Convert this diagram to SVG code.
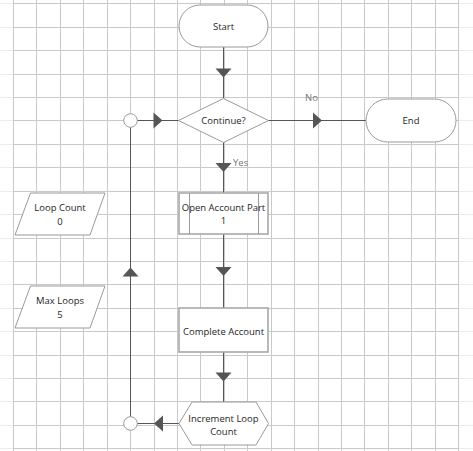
<svg xmlns="http://www.w3.org/2000/svg" width="473" height="451" viewBox="0 0 473 451">
<style>
.grid{stroke:#c9c9c9;stroke-width:1;fill:none}
.gridf{stroke:#ececec;stroke-width:1;fill:none}
.shape{fill:#fff;stroke:#9a9a9a;stroke-width:1}
.box{fill:#fff;stroke:#a8a8a8;stroke-width:1.6}
.conn{fill:none;stroke:#555;stroke-width:1}
.t{font-family:"Open Sans","Noto Sans",sans-serif;font-size:9.5px;fill:#1e1e1e;text-anchor:middle}
.lbl{font-family:"Open Sans","Noto Sans",sans-serif;font-size:9.5px;fill:#777}
</style>
<defs>
<marker id="ah" markerUnits="userSpaceOnUse" markerWidth="12" markerHeight="18" viewBox="-6 -9 12 18" refX="0" refY="0" orient="auto">
<path d="M-4.5,-8 L4.5,0 L-4.5,8 Z" fill="#555"/>
</marker>
</defs>
<rect width="473" height="451" fill="#fff"/>
<g id="grid">
<path class="gridf" d="M0 3.5H13M458 3.5H473M0 27.5H13M458 27.5H473M0 50.5H13M458 50.5H473M0 74.5H13M458 74.5H473M0 97.5H13M458 97.5H473M0 120.5H13M458 120.5H473M0 144.5H13M458 144.5H473M0 167.5H13M458 167.5H473M0 191.5H13M458 191.5H473M0 214.5H13M458 214.5H473M0 238.5H13M458 238.5H473M0 261.5H13M458 261.5H473M0 284.5H13M458 284.5H473M0 308.5H13M458 308.5H473M0 331.5H13M458 331.5H473M0 355.5H13M458 355.5H473M0 378.5H13M458 378.5H473M0 401.5H13M458 401.5H473M0 425.5H13M458 425.5H473M0 448.5H13M458 448.5H473"/>
<path class="grid" d="M13 3.5H458.5M13 27.5H458.5M13 50.5H458.5M13 74.5H458.5M13 97.5H458.5M13 120.5H458.5M13 144.5H458.5M13 167.5H458.5M13 191.5H458.5M13 214.5H458.5M13 238.5H458.5M13 261.5H458.5M13 284.5H458.5M13 308.5H458.5M13 331.5H458.5M13 355.5H458.5M13 378.5H458.5M13 401.5H458.5M13 425.5H458.5M13 448.5H458.5"/>
<path class="grid" d="M13.5 0V451M36.5 0V451M60.5 0V451M83.5 0V451M107.5 0V451M130.5 0V451M154.5 0V451M177.5 0V451M200.5 0V451M224.5 0V451M247.5 0V451M271.5 0V451M294.5 0V451M318.5 0V451M341.5 0V451M364.5 0V451M388.5 0V451M411.5 0V451M435.5 0V451M458.5 0V451"/>
</g>
<g id="connectors">
<path class="conn" marker-mid="url(#ah)" d="M223.5 47 L223.5 73 L223.5 98"/>
<path class="conn" marker-mid="url(#ah)" d="M223.5 142 L223.5 167.5 L223.5 193"/>
<path class="conn" marker-mid="url(#ah)" d="M223.5 234 L223.5 271.5 L223.5 308"/>
<path class="conn" marker-mid="url(#ah)" d="M223.5 352 L223.5 377 L223.5 402"/>
<path class="conn" marker-mid="url(#ah)" d="M179 423.5 L158.5 423.5 L137 423.5"/>
<path class="conn" marker-mid="url(#ah)" d="M130.5 416.5 L130.5 272 L130.5 127.5"/>
<path class="conn" marker-mid="url(#ah)" d="M137 120.5 L158 120.5 L179 120.5"/>
<path class="conn" marker-mid="url(#ah)" d="M268 120.5 L317.5 120.5 L366 120.5"/>
<text class="lbl" x="233" y="166">Yes</text>
<text class="lbl" x="305" y="101">No</text>
</g>
<g id="start">
<rect class="shape" x="179" y="5" width="89" height="42" rx="21" ry="21"/>
<text class="t" x="223.5" y="29.5">Start</text>
</g>
<g id="continue">
<path class="shape" d="M178.5 120.5 L223.5 98.5 L268.5 120.5 L223.5 142.5 Z"/>
<text class="t" x="223.5" y="123.5">Continue?</text>
</g>
<g id="end">
<rect class="shape" x="366" y="99" width="90" height="43" rx="21.5" ry="21.5"/>
<text class="t" x="411" y="123.5">End</text>
</g>
<g id="loopTop">
<circle class="shape" cx="130.5" cy="120.5" r="6.8"/>
</g>
<g id="loopBottom">
<circle class="shape" cx="130.5" cy="423.5" r="6.8"/>
</g>
<g id="openAccount">
<rect class="box" x="179" y="193" width="89" height="41"/>
<path class="shape" d="M189.5 193V234M258.5 193V234"/>
<text class="t" x="223.5" y="211">Open Account Part</text>
<text class="t" x="223.5" y="224">1</text>
</g>
<g id="completeAccount">
<rect class="box" x="179" y="308" width="89" height="44"/>
<text class="t" x="223.5" y="334.5">Complete Account</text>
</g>
<g id="increment">
<path class="shape" d="M179 423.5 L192 402 L256 402 L268.5 423.5 L256 445 L192 445 Z"/>
<text class="t" x="223.5" y="421.5">Increment Loop</text>
<text class="t" x="223.5" y="435">Count</text>
</g>
<g id="loopCount">
<path class="shape" d="M30.5 193 L105 193 L90 235 L15 235 Z"/>
<text class="t" x="60" y="210.5">Loop Count</text>
<text class="t" x="60" y="224.5">0</text>
</g>
<g id="maxLoops">
<path class="shape" d="M30.5 286 L105 286 L90 328 L15 328 Z"/>
<text class="t" x="60" y="304">Max Loops</text>
<text class="t" x="60" y="318">5</text>
</g>
</svg>
